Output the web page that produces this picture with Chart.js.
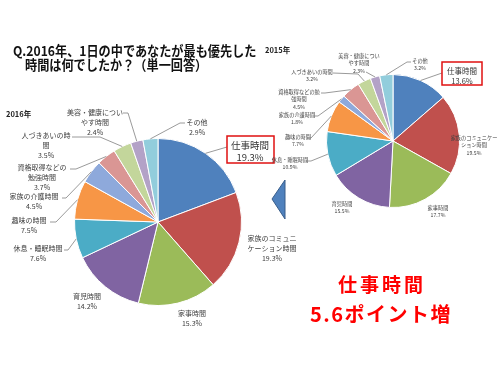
<!DOCTYPE html>
<html><head><meta charset="utf-8">
<script src="https://cdn.jsdelivr.net/npm/chart.js@4.4.0/dist/chart.umd.min.js"></script>
<style>
html,body{margin:0;padding:0;background:#fff;width:500px;height:375px;overflow:hidden;font-family:"Noto Sans CJK JP","Noto Sans",sans-serif;}
canvas{position:absolute;left:0;top:0;}
.t{position:absolute;white-space:nowrap;line-height:1;}
.q{font-size:13.5px;font-weight:bold;color:#111;transform:scaleX(0.9);transform-origin:0 0;}
</style></head><body>
<canvas id="c16" width="500" height="375"></canvas>
<canvas id="c15" width="500" height="375"></canvas>
<div class="t q" style="left:13px;top:44px;">Q.2016年、1日の中であなたが最も優先した</div>
<div class="t q" style="left:25px;top:58px;">時間は何でしたか？（単一回答）</div>
<div class="t" style="left:6px;top:110px;font-size:7.5px;font-weight:bold;color:#222;">2016年</div>
<div class="t" style="left:265px;top:46px;font-size:7.5px;font-weight:bold;color:#222;">2015年</div>
<div class="t" style="left:330px;top:274px;width:104px;text-align:center;font-size:19px;font-weight:bold;color:#FF0000;letter-spacing:3px;">仕事時間</div>
<div class="t" style="left:300px;top:304px;width:162px;text-align:center;font-size:20px;font-weight:bold;color:#FF0000;letter-spacing:1.5px;">5.6ポイント増</div>
<svg style="position:absolute;left:0;top:0;" width="500" height="375"><polygon points="272,199 285,180 285,219" fill="#4F81BD" stroke="#385D8A" stroke-width="1"/></svg>
<script>
const categories = ['仕事時間','家族のコミュニケーション時間','家事時間','育児時間','休息・睡眠時間','趣味の時間','家族の介護時間','資格取得などの勉強時間','人づきあいの時間','美容・健康についやす時間','その他'];
const values2016 = [19.3,19.3,15.3,14.2,7.6,7.5,4.5,3.7,3.5,2.4,2.9];
const values2015 = [13.6,19.5,17.7,15.5,10.9,7.7,1.8,4.5,3.2,2.3,3.2];
const colors = ['#4F81BD','#C0504D','#9BBB59','#8064A2','#4BACC6','#F79646','#8EA9DB','#DA9694','#C3D69B','#B3A2C7','#92CDDC'];

const layout2016 = {fs:7, lh:10, items:[
 {i:0,x:250,y:145,fs:9.5,lh:12,box:{x:227,y:136,w:47,h:27},lead:[[227,147]]},
 {i:1,x:272,y:238,brk:[7]},
 {i:2,x:192,y:313},
 {i:3,x:87,y:296},
 {i:4,x:38,y:248,lead:[[64,250],[68,250]]},
 {i:5,x:29,y:220,lead:[[50,222],[56,222]]},
 {i:6,x:34,y:196,lead:[[62,198],[66,198]]},
 {i:7,x:42,y:167,brk:[7],lead:[[70,169],[76,169]]},
 {i:8,x:46,y:135,brk:[7],lead:[[72,137],[100,137]]},
 {i:9,x:95,y:112,brk:[8],lead:[[123,113],[128,113]]},
 {i:10,x:197,y:122,lead:[[185,123],[180,123]]}
]};
const layout2015 = {fs:5.2, lh:7.3, items:[
 {i:0,x:462,y:71,fs:7.5,lh:10,box:{x:442,y:62,w:40,h:23},lead:[[442,73]]},
 {i:1,x:474,y:138,brk:[9]},
 {i:2,x:438,y:208},
 {i:3,x:342,y:204},
 {i:4,x:290,y:160,lead:[[306,161],[311,161]]},
 {i:5,x:298,y:137,lead:[[307,138],[311,138]]},
 {i:6,x:297,y:115,lead:[[314,116],[318,116]]},
 {i:7,x:299,y:92,brk:[8],lead:[[321,93],[325,93]]},
 {i:8,x:312,y:72,lead:[[333,73],[358,74]]},
 {i:9,x:359,y:56,brk:[8],lead:[[366,72]]},
 {i:10,x:420,y:61,lead:[[411,62],[407,62]]}
]};

function makeLabelPlugin(L, vals){
  return {
    id:'lbl',
    afterDatasetsDraw(chart){
      const ctx = chart.ctx;
      const meta = chart.getDatasetMeta(0);
      ctx.save();
      L.items.forEach(it=>{
        const arc = meta.data[it.i];
        const p = arc.getProps(['x','y','startAngle','endAngle','outerRadius'], true);
        const mid = (p.startAngle+p.endAngle)/2;
        if(it.lead){
          ctx.beginPath();
          ctx.strokeStyle='#808080'; ctx.lineWidth=0.8;
          ctx.moveTo(it.lead[0][0], it.lead[0][1]);
          for(let k=1;k<it.lead.length;k++) ctx.lineTo(it.lead[k][0], it.lead[k][1]);
          ctx.lineTo(p.x+Math.cos(mid)*p.outerRadius, p.y+Math.sin(mid)*p.outerRadius);
          ctx.stroke();
        }
        const name = categories[it.i];
        const lines = [];
        let s = 0;
        (it.brk||[]).forEach(b=>{lines.push(name.slice(s,b)); s=b;});
        lines.push(name.slice(s));
        lines.push(vals[it.i].toFixed(1)+'%');
        const fs = it.fs||L.fs, lh = it.lh||L.lh;
        ctx.font = fs+'px "Noto Sans CJK JP"';
        ctx.fillStyle = it.box ? '#333' : '#404040';
        ctx.textAlign='center'; ctx.textBaseline='middle';
        lines.forEach((t,k)=>ctx.fillText(t, it.x, it.y+k*lh));
        if(it.box){
          ctx.strokeStyle='#E01010'; ctx.lineWidth=1.5;
          ctx.strokeRect(it.box.x, it.box.y, it.box.w, it.box.h);
        }
      });
      ctx.restore();
    }
  };
}

function makePie(id, vals, L, pad){
  return new Chart(document.getElementById(id), {
    type:'pie',
    data:{labels:categories, datasets:[{data:vals, backgroundColor:colors, borderColor:'#fff', borderWidth:1}]},
    options:{
      responsive:false, animation:false, devicePixelRatio:1,
      layout:{padding:pad},
      plugins:{legend:{display:false}, tooltip:{enabled:false}}
    },
    plugins:[makeLabelPlugin(L, vals)]
  });
}
makePie('c16', values2016, layout2016, {left:74,right:258,top:138,bottom:69});
makePie('c15', values2015, layout2015, {left:326,right:40,top:74,bottom:167});
</script>
</body></html>
